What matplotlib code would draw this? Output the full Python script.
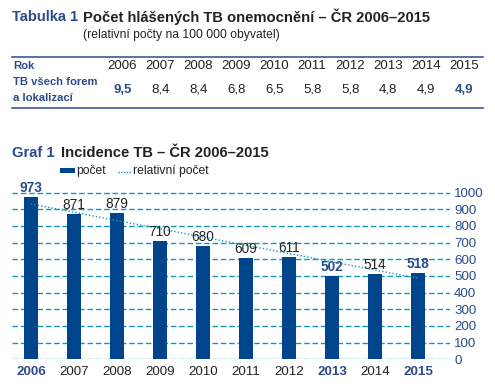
import matplotlib
matplotlib.use('Agg')
import matplotlib.pyplot as plt
import numpy as np

plt.rcParams['font.family'] = ['Liberation Sans', 'DejaVu Sans']

years = ['2006', '2007', '2008', '2009', '2010', '2011', '2012', '2013', '2014', '2015']
counts = [973, 871, 879, 710, 680, 609, 611, 502, 514, 518]
relative = [9.5, 8.4, 8.4, 6.8, 6.5, 5.8, 5.8, 4.8, 4.9, 4.9]
relative_labels = ['9,5', '8,4', '8,4', '6,8', '6,5', '5,8', '5,8', '4,8', '4,9', '4,9']
highlight_years = ['2006', '2013', '2015']
highlight_counts = [973, 502, 518]
highlight_rel = [0, 9]

BLUE_TXT = '#2b4b8c'
BAR = '#00448c'
GRID = '#1496b8'
DARK = '#222222'

W, H = 495, 388
fig = plt.figure(figsize=(W / 100, H / 100), dpi=100)


def px(x, y):
    return x / W, 1 - y / H


# --- table ---
fig.text(*px(12, 17), 'Tabulka 1', color=BLUE_TXT, fontsize=10.6, fontweight='bold', va='center')
fig.text(*px(83, 17), 'Počet hlášených TB onemocnění – ČR 2006–2015', color=DARK,
         fontsize=10.6, fontweight='bold', va='center')
fig.text(*px(83, 35), '(relativní počty na 100 000 obyvatel)', color=DARK, fontsize=8.7, va='center')

for yy in (57, 108):
    fig.add_artist(plt.Line2D([12 / W, 483 / W], [1 - yy / H] * 2, color=BLUE_TXT, lw=1.1))

fig.text(*px(13, 66), 'Rok', color=BLUE_TXT, fontsize=8.1, fontweight='bold', va='center')
fig.text(*px(13, 82), 'TB všech forem', color=BLUE_TXT, fontsize=8.1, fontweight='bold', va='center')
fig.text(*px(13, 98), 'a lokalizací', color=BLUE_TXT, fontsize=8.1, fontweight='bold', va='center')
for i, (yr, lab) in enumerate(zip(years, relative_labels)):
    cx = 122.3 + 37.97 * i
    fig.text(*px(cx, 66), yr, color=DARK, fontsize=9.5, ha='center', va='center')
    if i in highlight_rel:
        fig.text(*px(cx, 90), lab, color=BLUE_TXT, fontsize=9.5, fontweight='bold', ha='center', va='center')
    else:
        fig.text(*px(cx, 90), lab, color=DARK, fontsize=9.5, ha='center', va='center')

# --- chart ---
fig.text(*px(12, 153), 'Graf 1', color=BLUE_TXT, fontsize=10.6, fontweight='bold', va='center')
fig.text(*px(61, 153), 'Incidence TB – ČR 2006–2015', color=DARK, fontsize=10.6, fontweight='bold', va='center')

fig.add_artist(plt.Rectangle(px(60, 173), 15 / W, 5 / H, color=BAR, lw=0))
fig.text(*px(76, 171), 'počet', color=DARK, fontsize=8.7, va='center')
fig.add_artist(plt.Line2D([118 / W, 131 / W], [1 - 171.5 / H] * 2, color=GRID, lw=1, ls=(0, (1, 1))))
fig.text(*px(133, 171), 'relativní počet', color=DARK, fontsize=8.7, va='center')

ax = fig.add_axes([12 / W, 1 - 359.3 / H, (450 - 12) / W, (359.3 - 184.3) / H])
x = np.arange(len(years))
ax.set_xlim(-0.44, 9.74)
ax.set_ylim(0, 1050)
ax.set_yticks(range(0, 1001, 100))
for v in range(0, 1001, 100):
    ax.axhline(v, color=GRID, lw=1, ls=(0, (4, 2)), zorder=1)
bars = ax.bar(x, counts, width=0.33, color=BAR, zorder=3)

for xi, c in zip(x, counts):
    bold = c in highlight_counts
    ax.annotate(str(c), (xi, c), xytext=(0, 1.5), textcoords='offset points', ha='center', va='bottom',
                fontsize=9.8, color=BLUE_TXT if bold else DARK, fontweight='bold' if bold else 'normal',
                zorder=4)

# trend line of relative values on hidden secondary axis
ax2 = ax.twinx()
coef = np.polyfit(x, relative, 1)
ax2.plot(x, np.polyval(coef, x), color=GRID, lw=1, ls=(0, (1, 1.5)), zorder=5)
ax2.set_ylim((0 - 95) / 93.3, (1050 - 95) / 93.3)
ax2.axis('off')

ax.set_xticks(x)
ax.set_xticklabels(years)
for lab in ax.get_xticklabels():
    if lab.get_text() in highlight_years:
        lab.set_color(BLUE_TXT)
        lab.set_fontweight('bold')
    else:
        lab.set_color(DARK)
ax.yaxis.tick_right()
ax.tick_params(axis='both', length=0, labelsize=9.6)
ax.tick_params(axis='x', pad=4.5)
ax.tick_params(axis='y', pad=3, labelcolor=BLUE_TXT)
for s in ax.spines.values():
    s.set_visible(False)

fig.savefig('out.png', dpi=100)
